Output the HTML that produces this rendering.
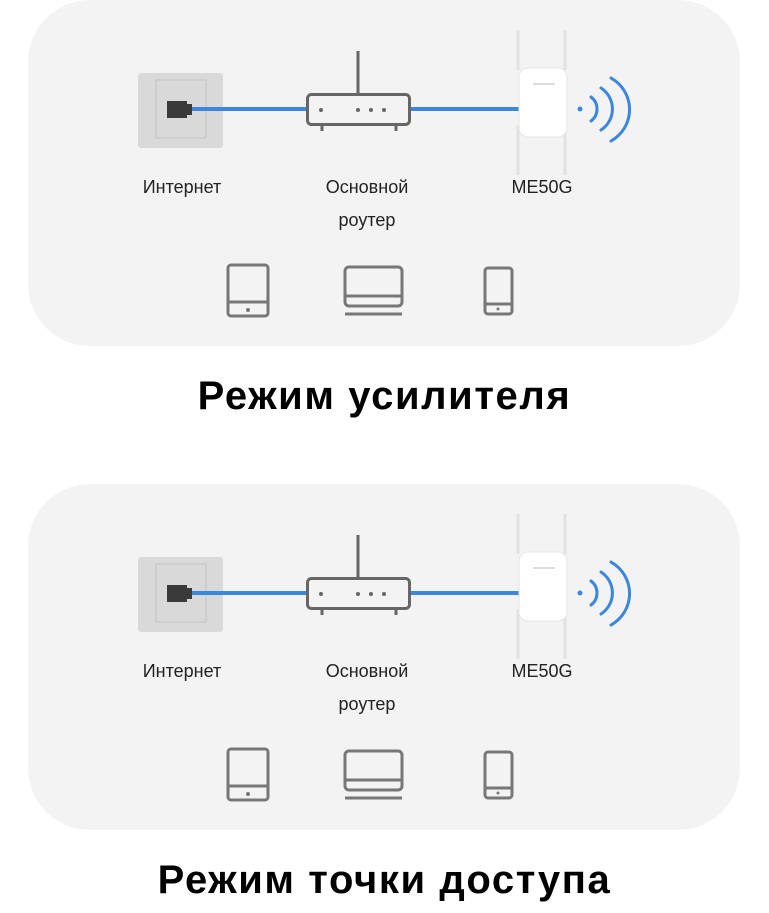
<!DOCTYPE html>
<html><head><meta charset="utf-8"><style>
body{margin:0;width:769px;height:913px;background:#fff;position:relative;overflow:hidden;font-family:"Liberation Sans",sans-serif}
.p{position:absolute;left:28px;width:712px;height:346px;background:#f3f3f3;border-radius:62px}
.t{position:absolute;left:0;width:769px;text-align:center;font-weight:bold;font-size:40px;letter-spacing:1.6px;color:#000}
</style></head><body>
<div class="p" style="top:0"></div>
<div class="p" style="top:484px"></div>
<svg width="769" height="913" style="position:absolute;left:0;top:0" font-family="Liberation Sans, sans-serif">
<defs>
<g id="d">
<rect x="138" y="73" width="85" height="75" rx="3" fill="#d9d9d9"/>
<rect x="156" y="80" width="50" height="58" fill="none" stroke="#c4c4c4" stroke-width="1"/>
<rect x="167" y="101" width="20" height="17" fill="#3a3a3a"/>
<rect x="185" y="104" width="7" height="11" fill="#3a3a3a"/>
<line x1="192" y1="109" x2="307" y2="109" stroke="#3b86de" stroke-width="4"/>
<line x1="410" y1="109" x2="520" y2="109" stroke="#3b86de" stroke-width="4"/>
<line x1="358" y1="51" x2="358" y2="94" stroke="#666" stroke-width="3"/>
<rect x="307.5" y="94.5" width="102" height="30" rx="4" fill="#f3f3f3" stroke="#666" stroke-width="3"/>
<line x1="322" y1="125" x2="322" y2="131" stroke="#666" stroke-width="3"/>
<line x1="396" y1="125" x2="396" y2="131" stroke="#666" stroke-width="3"/>
<circle cx="321" cy="110" r="2" fill="#666"/><circle cx="358" cy="110" r="2" fill="#666"/><circle cx="371" cy="110" r="2" fill="#666"/><circle cx="384" cy="110" r="2" fill="#666"/>
<g stroke="#e2e2e2" stroke-width="3"><line x1="518" y1="30" x2="518" y2="70"/><line x1="565" y1="30" x2="565" y2="70"/><line x1="518" y1="125" x2="518" y2="175"/><line x1="565" y1="125" x2="565" y2="175"/></g>
<rect x="519" y="68" width="48" height="69" rx="9" fill="#fff" stroke="#e6e6e6"/>
<line x1="533" y1="84" x2="555" y2="84" stroke="#bbb" stroke-width="1"/>
<circle cx="580" cy="109" r="2.5" fill="#3b86de"/>
<g fill="none" stroke="#3b86de" stroke-width="3" stroke-linecap="round">
<path d="M591 97 A15 15 0 0 1 591 121"/><path d="M601 88 A25 25 0 0 1 601 130"/><path d="M611 78 A36 36 0 0 1 611 141"/></g>
<g font-size="18" fill="#222" text-anchor="middle"><text x="182" y="193">Интернет</text><text x="367" y="193">Основной</text><text x="367" y="226">роутер</text><text x="542" y="193">ME50G</text></g>
<g fill="none" stroke="#777" stroke-width="3">
<rect x="228" y="265" width="40" height="51" rx="3"/><line x1="228" y1="302" x2="268" y2="302"/>
<rect x="345" y="267" width="57" height="39" rx="4"/><line x1="345" y1="296" x2="402" y2="296"/><line x1="345" y1="314" x2="402" y2="314"/>
<rect x="485" y="268" width="27" height="46" rx="3"/><line x1="485" y1="304" x2="512" y2="304"/></g>
<circle cx="248" cy="310" r="2" fill="#777"/><circle cx="498" cy="309" r="1.5" fill="#777"/>
</g></defs>
<use href="#d"/>
<use href="#d" y="484"/>
</svg>
<div class="t" style="top:374px">Режим усилителя</div>
<div class="t" style="top:858px">Режим точки доступа</div>
</body></html>
